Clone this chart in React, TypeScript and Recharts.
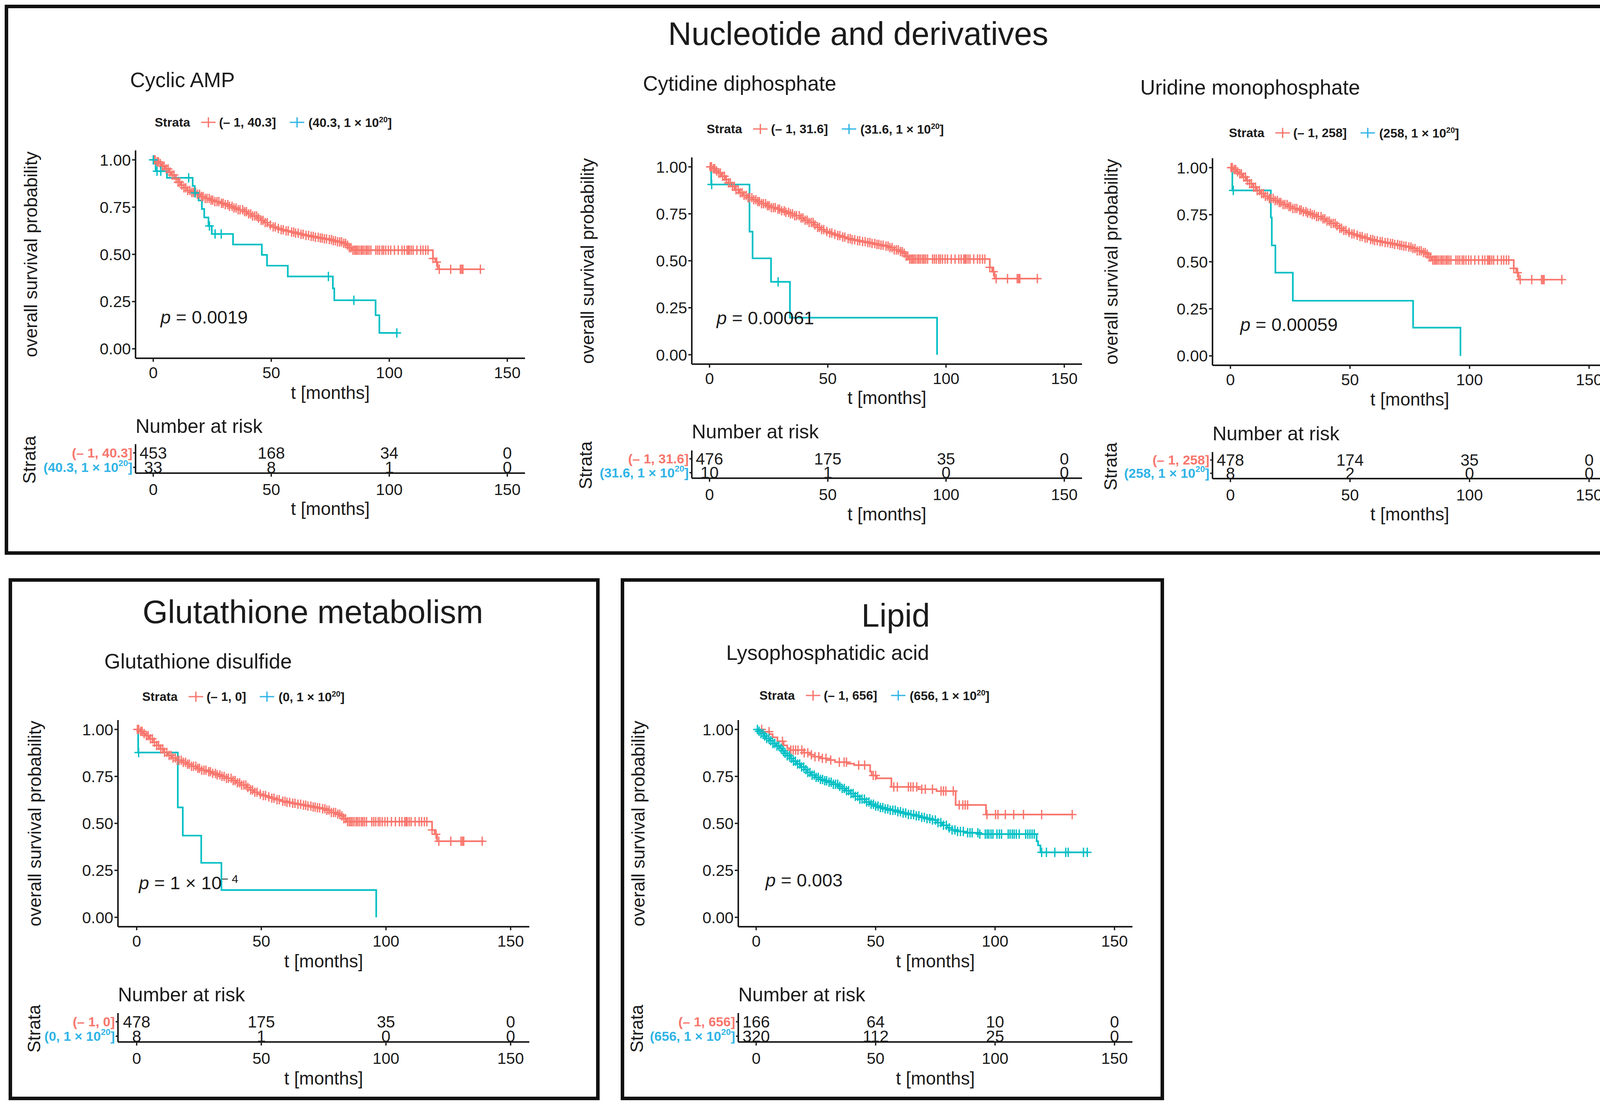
import React from 'react'
import { ComposedChart, Line, Scatter, XAxis, YAxis } from 'recharts'

const RED = '#F8766D'
const TEAL = '#00BFC4'
const SKY = '#30B4E6'
const INK = '#1b1b1b'
const FONT = '"Liberation Sans", Arial, sans-serif'

const X_DOMAIN: [number, number] = [-7.5, 157.5]
const Y_DOMAIN: [number, number] = [-0.05, 1.05]
const X_TICKS = [0, 50, 100, 150]
const Y_TICKS = [0, 0.25, 0.5, 0.75, 1]
const RISK_TIMES = [0, 50, 100, 150]

// censored times of the large low-value stratum (same cohort in every panel)
const cohortCensor = [
  0.3, 0.8, 1.6, 2.2, 3.0, 3.9, 4.6, 5.5, 6.3, 7.1, 8.0, 8.8, 9.7, 10.5, 11.2, 12.1, 13.0, 13.8, 14.6, 15.5,
  16.3, 17.0, 17.9, 18.7, 19.6, 20.4, 21.1, 22.0, 22.8, 23.7, 24.5, 25.2, 26.1, 27.0, 27.8, 28.9, 29.6, 30.5,
  31.6, 32.3, 33.4, 34.2, 35.1, 36.0, 36.8, 37.9, 38.7, 39.5, 40.4, 41.3, 42.1, 43.0, 43.8, 44.6, 45.7, 46.5,
  47.4, 48.3, 49.6, 50.8, 51.7, 53.0, 54.2, 55.1, 56.3, 57.2, 58.6, 59.5, 60.3, 61.4, 62.6, 63.5, 64.7, 65.8,
  66.9, 67.8, 68.7, 69.9, 70.8, 71.6, 72.5, 73.4, 74.6, 75.5, 76.3, 77.2, 78.1, 79.0, 79.8, 80.7, 81.5, 82.3,
  83.1, 83.8, 84.6, 85.3, 85.9, 86.5, 87.2, 88.0, 88.6, 89.3, 90.1, 90.7, 91.4, 92.2, 94.3, 95.1, 95.9, 96.9,
  97.6, 98.5, 99.6, 100.6, 102.2, 103.8, 105.4, 106.4, 107.5, 108.1, 108.5, 109.3, 110.1, 111.7, 113.3, 114.3,
  115.4, 116.4, 118.5, 120.1, 121.2, 126.0, 130.1, 130.7, 131.2, 138.6,
]

// low-value stratum curve shared by CDP / UMP / GSSG panels
const cohortLow = [
  [0, 1], [1.5, 0.99], [2.5, 0.978], [3.5, 0.967], [5, 0.95], [6.5, 0.932], [8, 0.915], [9.5, 0.896], [11, 0.878],
  [12.5, 0.862], [14, 0.848], [16, 0.836], [18, 0.825], [20, 0.815], [22, 0.804], [24, 0.793], [26, 0.783],
  [28, 0.775], [30, 0.766], [32, 0.758], [34, 0.75], [36, 0.74], [38, 0.728], [40, 0.716], [42, 0.704], [44, 0.691],
  [45.5, 0.678], [47, 0.666], [48.5, 0.656], [50, 0.648], [52, 0.641], [54, 0.634], [56, 0.626], [58, 0.618],
  [60, 0.612], [62, 0.607], [64, 0.602], [66, 0.597], [68, 0.592], [70, 0.587], [72, 0.583], [74, 0.578],
  [76, 0.57], [78, 0.558], [80, 0.549], [82, 0.54], [83, 0.525], [84, 0.509], [118.5, 0.465], [119.5, 0.442],
  [120.5, 0.405], [139.2, 0.405],
]

// Cyclic AMP
const campLow = [
  [0, 1], [1.5, 0.99], [2.5, 0.98], [3.5, 0.967], [5, 0.952], [6.5, 0.935], [7.5, 0.92], [9, 0.9], [10.5, 0.882],
  [11.5, 0.866], [13, 0.852], [14.5, 0.838], [16, 0.828], [18, 0.818], [20, 0.806], [22, 0.796], [24, 0.787],
  [26, 0.779], [28, 0.77], [30, 0.763], [32, 0.754], [34, 0.745], [36, 0.736], [38, 0.726], [40, 0.714],
  [42, 0.703], [44, 0.692], [45.5, 0.68], [47, 0.668], [48.5, 0.655], [50, 0.645], [52, 0.637], [54, 0.63],
  [56, 0.624], [58, 0.618], [60, 0.612], [62, 0.606], [64, 0.6], [66, 0.595], [68, 0.59], [70, 0.586], [72, 0.582],
  [74, 0.578], [76, 0.572], [78, 0.566], [80, 0.558], [82, 0.548], [83, 0.535], [84, 0.522], [118.5, 0.478],
  [119.5, 0.459], [120.5, 0.421], [139.2, 0.421],
]
const campHigh = [
  [0, 1], [1, 0.94], [5.8, 0.905], [16.7, 0.862], [17.6, 0.825], [19.2, 0.785], [20.6, 0.74], [21.6, 0.695],
  [23.4, 0.65], [24.8, 0.608], [33.8, 0.552], [46, 0.497], [48.2, 0.44], [57, 0.383], [76.1, 0.32], [76.7, 0.257],
  [94.2, 0.178], [95.8, 0.084], [103.5, 0.084],
]
const campHighCensor = [0, 1.6, 3.2, 15, 17.7, 23.8, 26.2, 28.8, 74.2, 85, 103.2]
const campRiskLow = [453, 168, 34, 0]
const campRiskHigh = [33, 8, 1, 0]

// Cytidine diphosphate
const cdpHigh = [[0, 1], [0.7, 0.906], [16.9, 0.655], [18.2, 0.513], [26, 0.388], [34, 0.197], [96.2, 0]]
const cdpHighCensor = [0.9, 29]
const cdpRiskLow = [476, 175, 35, 0]
const cdpRiskHigh = [10, 1, 0, 0]

// Uridine monophosphate
const umpHigh = [[0, 1], [0.8, 0.879], [16.9, 0.735], [17.3, 0.587], [18.8, 0.442], [26.1, 0.293], [76.4, 0.15], [96.2, 0]]
const umpHighCensor = [1.2]
const umpRiskLow = [478, 174, 35, 0]
const umpRiskHigh = [8, 2, 0, 0]

// Glutathione disulfide
const gssgHigh = [[0, 1], [0.6, 0.877], [16.5, 0.585], [18.5, 0.435], [25.9, 0.29], [34, 0.145], [96.1, 0]]
const gssgHighCensor = [0.8]
const gssgRiskLow = [478, 175, 35, 0]
const gssgRiskHigh = [8, 1, 0, 0]

// Lysophosphatidic acid
const lpaLow = [
  [0, 1], [2.8, 0.988], [5.5, 0.975], [6.9, 0.958], [8.9, 0.937], [11.5, 0.915], [13, 0.9], [14.2, 0.89], [20, 0.876],
  [22.5, 0.865], [24.5, 0.855], [27, 0.846], [29.5, 0.837], [33, 0.826], [38, 0.818], [41, 0.81], [47.7, 0.776],
  [48.3, 0.755], [50.5, 0.74], [56.6, 0.694], [68, 0.682], [75.5, 0.672], [83.5, 0.598], [96.2, 0.547], [132.5, 0.547],
]
const lpaLowCensor = [
  2.3, 5.4, 11.0, 14.5, 15.5, 16.5, 17.5, 19.1, 20.1, 21.6, 23.1, 24.6, 26.2, 27.7, 29.2, 31.2, 34.8, 36.8, 37.8,
  42.9, 45.4, 49.0, 50.0, 57.6, 59.1, 63.7, 64.7, 65.7, 67.2, 69.3, 70.8, 73.8, 77.4, 78.4, 79.4, 82.5, 85.0, 86.5,
  87.5, 88.5, 96.6, 100.2, 101.2, 104.3, 107.8, 111.9, 119.5, 132.3,
]
const lpaHigh = [
  [0, 1], [1, 0.99], [2, 0.978], [3, 0.965], [4, 0.952], [5.5, 0.94], [7, 0.925], [8.5, 0.912], [10, 0.9], [11, 0.886],
  [12, 0.873], [13, 0.86], [14, 0.846], [15.5, 0.831], [17, 0.816], [18.5, 0.8], [20, 0.786], [21.5, 0.771],
  [23, 0.757], [24.5, 0.745], [26.2, 0.734], [28, 0.727], [30.2, 0.719], [32.3, 0.708], [34.3, 0.697], [36, 0.686],
  [37.5, 0.674], [39.5, 0.659], [41.4, 0.644], [43.4, 0.629], [45.4, 0.614], [47.5, 0.602], [49.5, 0.592],
  [51.5, 0.584], [53.5, 0.577], [56, 0.57], [58.6, 0.562], [61, 0.555], [63.7, 0.547], [66.2, 0.54], [68.8, 0.532],
  [71.3, 0.525], [73.8, 0.518], [75.8, 0.504], [77.9, 0.49], [80, 0.476], [82, 0.465], [84, 0.457], [87, 0.45],
  [93, 0.443], [117.4, 0.405], [118, 0.383], [119, 0.346], [139, 0.346],
]
const lpaHighCensor = [
  0.5, 1.2, 2.0, 2.9, 3.6, 4.4, 5.3, 6.1, 7.0, 7.8, 8.7, 9.5, 10.4, 11.3, 12.1, 13.0, 13.9, 14.7, 15.6, 16.4, 17.3,
  18.2, 19.0, 19.9, 20.8, 21.6, 22.5, 23.4, 24.3, 25.1, 26.0, 26.9, 27.8, 28.7, 29.5, 30.5, 31.4, 32.3, 33.2, 34.1,
  35.0, 36.0, 36.9, 37.8, 38.7, 39.7, 40.6, 41.5, 42.5, 43.4, 44.3, 45.3, 46.2, 47.2, 48.1, 49.1, 50.0, 51.0, 52.0,
  53.0, 54.0, 55.1, 56.1, 57.2, 58.2, 59.3, 60.4, 61.5, 62.6, 63.7, 64.8, 65.9, 67.0, 68.1, 69.3, 70.4, 71.5, 72.7,
  73.8, 75.0, 76.1, 77.3, 78.4, 79.6, 80.8, 82.0, 83.2, 84.3, 85.5, 86.7, 88.5, 89.5, 90.4, 92.8, 93.6, 95.9, 96.7,
  97.4, 98.3, 99.1, 100.8, 101.8, 102.7, 105.5, 106.3, 107.2, 108.0, 108.9, 110.1, 112.8, 113.7, 114.6, 115.5,
  116.4, 119.5, 121.5, 125.0, 129.6, 130.6, 137.0, 138.6,
]
const lpaRiskLow = [166, 64, 10, 0]
const lpaRiskHigh = [320, 112, 25, 0]

type Geo = {
  L: number; R: number; T: number; B: number; tT: number; tB: number
  sub: [number, number]; leg: [number, number]; yTitle: number; xTitle: number
  nar: number; strata: [number, number]; tTitle: number
}

const panels = [
  {
    name: 'Cyclic AMP', cut: '40.3', pText: <><i>p</i> = 0.0019</>, pAt: [3.1, 0.17],
    low: campLow, high: campHigh, lowCensor: cohortCensor, highCensor: campHighCensor,
    riskLow: campRiskLow, riskHigh: campRiskHigh,
    geo: { L: 347, R: 1344, T: 385, B: 917, tT: 1137, tB: 1211, sub: [333, 204], leg: [396, 313], yTitle: 79,
      xTitle: 1005, nar: 1091, strata: [75, 1177], tTitle: 1302 } as Geo,
  },
  {
    name: 'Cytidine diphosphate', cut: '31.6', pText: <><i>p</i> = 0.00061</>, pAt: [3.0, 0.197],
    low: cohortLow, high: cdpHigh, lowCensor: cohortCensor, highCensor: cdpHighCensor,
    riskLow: cdpRiskLow, riskHigh: cdpRiskHigh,
    geo: { L: 1771, R: 2770, T: 403, B: 932, tT: 1153, tB: 1224, sub: [1646, 213], leg: [1809, 330], yTitle: 1504,
      xTitle: 1018, nar: 1105, strata: [1499, 1191], tTitle: 1316 } as Geo,
  },
  {
    name: 'Uridine monophosphate', cut: '258', pText: <><i>p</i> = 0.00059</>, pAt: [4.1, 0.168],
    low: cohortLow, high: umpHigh, lowCensor: cohortCensor, highCensor: umpHighCensor,
    riskLow: umpRiskLow, riskHigh: umpRiskHigh,
    geo: { L: 3104, R: 4114, T: 405, B: 935, tT: 1157, tB: 1225, sub: [2919, 223], leg: [3146, 340], yTitle: 2845,
      xTitle: 1022, nar: 1110, strata: [2843, 1194], tTitle: 1316 } as Geo,
  },
  {
    name: 'Glutathione disulfide', cut: '0', pText: <><i>p</i> = 1 × 10<sup style={{ fontSize: 30 }}>− 4</sup></>, pAt: [0.9, 0.185],
    low: cohortLow, high: gssgHigh, lowCensor: cohortCensor, highCensor: gssgHighCensor,
    riskLow: gssgRiskLow, riskHigh: gssgRiskHigh,
    geo: { L: 302, R: 1355, T: 1843, B: 2372, tT: 2593, tB: 2667, sub: [267, 1692], leg: [364, 1783], yTitle: 89,
      xTitle: 2460, nar: 2546, strata: [87, 2633], tTitle: 2760 } as Geo,
  },
  {
    name: 'Lysophosphatidic acid', cut: '656', pText: <><i>p</i> = 0.003</>, pAt: [3.9, 0.2],
    low: lpaLow, high: lpaHigh, lowCensor: lpaLowCensor, highCensor: lpaHighCensor,
    riskLow: lpaRiskLow, riskHigh: lpaRiskHigh,
    geo: { L: 1890, R: 2899, T: 1843, B: 2372, tT: 2593, tB: 2667, sub: [1859, 1670], leg: [1944, 1780], yTitle: 1634,
      xTitle: 2460, nar: 2546, strata: [1630, 2633], tTitle: 2760 } as Geo,
  },
]

const toPoints = (steps: number[][]) => steps.map(([t, s]) => ({ t, s }))

// survival value of the step curve at each censoring time
function censorPoints(steps: number[][], times: number[]) {
  return times.map((t) => {
    let s = steps[0][1]
    for (const [ti, si] of steps) if (ti <= t) s = si
    return { t, s }
  })
}

function Plus({ cx, cy, color }: any) {
  return (
    <g stroke={color} strokeWidth={3.4}>
      <line x1={cx - 11} x2={cx + 11} y1={cy} y2={cy} />
      <line x1={cx} x2={cx} y1={cy - 12} y2={cy + 12} />
    </g>
  )
}

function Txt({ x, y, size, children, anchor = 'start', weight = 'normal', color = INK, rotate = false }: any) {
  const tx = anchor === 'middle' ? '-50%' : anchor === 'end' ? '-100%' : '0'
  return (
    <div
      style={{
        position: 'absolute', left: x, top: y, fontSize: size, fontWeight: weight, color, fontFamily: FONT,
        whiteSpace: 'nowrap', lineHeight: 1,
        transform: rotate ? 'translate(-50%,-50%) rotate(-90deg)' : `translate(${tx},-50%)`,
      }}
    >
      {children}
    </div>
  )
}

function KeyCross({ color, ml }: { color: string; ml: number }) {
  return (
    <svg width={37} height={30} style={{ marginLeft: ml, display: 'block' }}>
      <line x1={0} x2={37} y1={15} y2={15} stroke={color} strokeWidth={3.4} />
      <line x1={18.5} x2={18.5} y1={2} y2={28} stroke={color} strokeWidth={3.4} />
    </svg>
  )
}

const axisLine = { stroke: INK, strokeWidth: 4 }
const tickLine = { stroke: INK, strokeWidth: 3.4 }

function Panel({ p }: { p: (typeof panels)[number] }) {
  const g = p.geo
  const w = g.R - g.L
  const h = g.B - g.T
  const YW = 120
  const MT = 30
  const MR = 40
  const XH = 75
  const TYW = 300
  const TMT = 10
  const th = g.tB - g.tT
  const px = g.L + ((p.pAt[0] - X_DOMAIN[0]) / (X_DOMAIN[1] - X_DOMAIN[0])) * w
  const py = g.T + ((Y_DOMAIN[1] - p.pAt[1]) / (Y_DOMAIN[1] - Y_DOMAIN[0])) * h

  const riskRows = [
    ...RISK_TIMES.map((t, i) => ({ t, row: 2, n: p.riskLow[i] })),
    ...RISK_TIMES.map((t, i) => ({ t, row: 1, n: p.riskHigh[i] })),
  ]

  const strataTick = (props: any) => {
    const { x, y, payload } = props
    const low = payload.value === 2
    return (
      <text x={x} y={y} textAnchor="end" dominantBaseline="central" fontSize={34} fontWeight="bold"
        fontFamily={FONT} fill={low ? RED : SKY}>
        {low ? (
          <tspan>(– 1, {p.cut}]</tspan>
        ) : (
          <>
            <tspan>({p.cut}, 1 × 10</tspan>
            <tspan dy={-11} fontSize={22}>20</tspan>
            <tspan dy={11}>]</tspan>
          </>
        )}
      </text>
    )
  }

  return (
    <>
      <Txt x={g.sub[0]} y={g.sub[1]} size={53}>{p.name}</Txt>
      <div style={{ position: 'absolute', left: g.leg[0], top: g.leg[1], transform: 'translateY(-50%)', display: 'flex',
        alignItems: 'center', fontFamily: FONT, fontWeight: 'bold', fontSize: 32, color: INK, whiteSpace: 'nowrap', lineHeight: 1 }}>
        <span>Strata</span>
        <KeyCross color={RED} ml={28} />
        <span style={{ marginLeft: 9 }}>(– 1, {p.cut}]</span>
        <KeyCross color={SKY} ml={35} />
        <span style={{ marginLeft: 11 }}>({p.cut}, 1 × 10<sup style={{ fontSize: 20 }}>20</sup>]</span>
      </div>

      <div style={{ position: 'absolute', left: g.L - YW, top: g.T - MT }}>
        <ComposedChart width={w + YW + MR} height={h + MT + XH} margin={{ top: MT, right: MR, bottom: 0, left: 0 }}>
          <XAxis type="number" dataKey="t" domain={X_DOMAIN} ticks={X_TICKS} height={XH} axisLine={axisLine}
            tickLine={tickLine} tickSize={9} tickMargin={13} tick={{ fontSize: 41, fill: INK, fontFamily: FONT }} />
          <YAxis type="number" domain={Y_DOMAIN} ticks={Y_TICKS} width={YW} axisLine={axisLine} tickLine={tickLine}
            tickSize={9} tickMargin={3} tickFormatter={(v: number) => v.toFixed(2)}
            tick={{ fontSize: 41, fill: INK, fontFamily: FONT }} />
          <Line data={toPoints(p.low)} dataKey="s" type="stepAfter" stroke={RED} strokeWidth={4.2} dot={false}
            activeDot={false} isAnimationActive={false} />
          <Scatter data={censorPoints(p.low, p.lowCensor)} dataKey="s" isAnimationActive={false}
            shape={(sp: any) => <Plus cx={sp.cx} cy={sp.cy} color={RED} />} />
          <Line data={toPoints(p.high)} dataKey="s" type="stepAfter" stroke={TEAL} strokeWidth={4.2} dot={false}
            activeDot={false} isAnimationActive={false} />
          <Scatter data={censorPoints(p.high, p.highCensor)} dataKey="s" isAnimationActive={false}
            shape={(sp: any) => <Plus cx={sp.cx} cy={sp.cy} color={TEAL} />} />
        </ComposedChart>
      </div>

      <Txt x={px} y={py} size={47}>{p.pText}</Txt>
      <Txt x={g.yTitle} y={(g.T + g.B) / 2} size={46} rotate>overall survival probability</Txt>
      <Txt x={(g.L + g.R) / 2} y={g.xTitle} size={46} anchor="middle">t [months]</Txt>

      <Txt x={g.L} y={g.nar} size={50}>Number at risk</Txt>
      <Txt x={g.strata[0]} y={g.strata[1]} size={46} rotate>Strata</Txt>
      <div style={{ position: 'absolute', left: g.L - TYW, top: g.tT - TMT }}>
        <ComposedChart width={w + TYW + MR} height={th + TMT + XH} margin={{ top: TMT, right: MR, bottom: 0, left: 0 }}>
          <XAxis type="number" dataKey="t" domain={X_DOMAIN} ticks={X_TICKS} height={XH} axisLine={axisLine}
            tickLine={tickLine} tickSize={9} tickMargin={18} tick={{ fontSize: 41, fill: INK, fontFamily: FONT }} />
          <YAxis type="number" domain={[0.6, 2.6]} ticks={[1, 2]} width={TYW} axisLine={axisLine} tickLine={tickLine}
            tickSize={6} tickMargin={2} tick={strataTick} />
          <Scatter data={riskRows} dataKey="row" isAnimationActive={false}
            shape={(sp: any) => (
              <text x={sp.cx} y={sp.cy} textAnchor="middle" dominantBaseline="central" fontSize={42}
                fontFamily={FONT} fill={INK}>
                {sp.payload?.n ?? sp.n}
              </text>
            )} />
        </ComposedChart>
      </div>
      <Txt x={(g.L + g.R) / 2} y={g.tTitle} size={46} anchor="middle">t [months]</Txt>
    </>
  )
}

const boxStyle = (l: number, t: number, r: number, b: number): React.CSSProperties => ({
  position: 'absolute', left: l, top: t, width: r - l, height: b - t, border: '9px solid #111', boxSizing: 'border-box',
})

export default function App() {
  return (
    <div style={{ position: 'absolute', left: 0, top: 0, width: 4200, height: 2836, background: '#fff', overflow: 'hidden' }}>
      <div style={boxStyle(12, 12, 4184, 1420)} />
      <div style={boxStyle(22, 1480, 1535, 2816)} />
      <div style={boxStyle(1589, 1480, 2980, 2816)} />
      <Txt x={2197} y={86} size={83} anchor="middle">Nucleotide and derivatives</Txt>
      <Txt x={801} y={1566} size={83} anchor="middle">Glutathione metabolism</Txt>
      <Txt x={2293} y={1575} size={83} anchor="middle">Lipid</Txt>
      {panels.map((p) => (
        <Panel key={p.name} p={p} />
      ))}
    </div>
  )
}
